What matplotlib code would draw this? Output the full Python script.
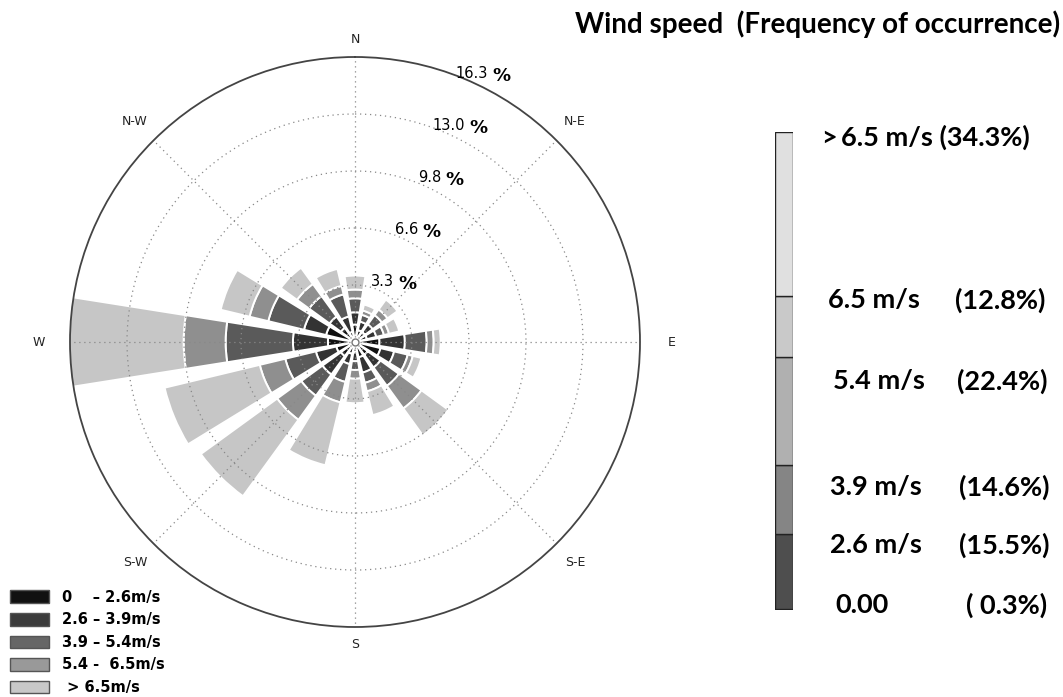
import numpy as np
import matplotlib
matplotlib.use('Agg')
import matplotlib.pyplot as plt
from matplotlib.patches import Patch
from matplotlib.transforms import offset_copy

# ---- data (percent frequency per direction, per speed bin) ----
directions = ['N', 'NNE', 'NE', 'ENE', 'E', 'ESE', 'SE', 'SSE',
              'S', 'SSW', 'SW', 'WSW', 'W', 'WNW', 'NW', 'NNW']
spd_0_26   = [1.0, 0.7, 0.7, 0.7, 1.4, 1.5, 0.9, 0.9, 0.6, 0.7, 1.0, 1.1, 1.55, 1.7, 1.0, 0.6]
spd_26_39  = [0.7, 0.5, 0.55, 0.55, 1.45, 0.8, 0.9, 0.9, 0.5, 0.6, 1.3, 1.2, 2.0, 1.3, 0.8, 0.9]
spd_39_54  = [0.8, 0.4, 0.65, 0.45, 1.25, 0.8, 1.3, 0.6, 0.5, 1.05, 1.5, 1.8, 3.85, 2.1, 1.45, 1.3]
spd_54_65  = [0.5, 0.25, 0.4, 0.3, 0.4, 0.3, 1.6, 0.5, 0.5, 1.2, 1.7, 1.5, 2.4, 1.1, 0.85, 0.5]
spd_gt_65  = [0.8, 0.35, 0.7, 0.6, 0.4, 0.5, 1.9, 1.4, 1.4, 3.7, 5.4, 5.6, 7.7, 1.7, 1.15, 1.0]
speed_bins = [spd_0_26, spd_26_39, spd_39_54, spd_54_65, spd_gt_65]
legend_labels = ['0    \u2013 2.6m/s', '2.6 \u2013 3.9m/s', '3.9 \u2013 5.4m/s',
                 '5.4 -  6.5m/s', ' > 6.5m/s']

ring_vals = [3.26, 6.52, 9.78, 13.04, 16.3]
ring_labels = ['3.3', '6.6', '9.8', '13.0', '16.3']
compass = ['N', 'N-E', 'E', 'S-E', 'S', 'S-W', 'W', 'N-W']

# overall distribution (colour bar on the right), bottom -> top
cb_pct = [0.3, 15.5, 14.6, 22.4, 12.8, 34.3]
cb_speed = ['0.00', '2.6 m/s', '3.9 m/s', '5.4 m/s', '6.5 m/s', '>\u20096.5 m/s']
cb_pct_txt = ['( 0.3%)', '(15.5%)', '(14.6%)', '(22.4%)', '(12.8%)', '(34.3%)']

# ---- styles ----
rose_cols = ['#111111', '#333333', '#5a5a5a', '#8f8f8f', '#c6c6c6']
leg_cols = ['#111111', '#3c3c3c', '#666666', '#999999', '#c8c8c8']
cb_cols = ['#111111', '#4e4e4e', '#858585', '#b0b0b0', '#c9c9c9', '#e0e0e0']

W, H = 1063, 697
fig = plt.figure(figsize=(W/100, H/100), dpi=100)

cx, cy, R = 355, 342, 285
ax = fig.add_axes([(cx-R)/W, (H-cy-R)/H, 2*R/W, 2*R/H], projection='polar')
ax.set_theta_zero_location('N')
ax.set_theta_direction(-1)

theta = np.deg2rad(np.arange(len(directions))*22.5)
bottom = np.zeros(len(directions))
for vals, col in zip(speed_bins, rose_cols):
    ax.bar(theta, vals, width=np.deg2rad(18), bottom=bottom, color=col,
           edgecolor='white', linewidth=1.4)
    bottom = bottom + np.array(vals)

ax.plot([0], [0], 'o', ms=5, mfc='white', mec='#777777', mew=1, zorder=5)

ax.set_rlim(0, ring_vals[-1])
ax.set_rticks(ring_vals[:-1])
ax.set_yticklabels([])
ax.set_xticks(np.deg2rad(np.arange(8)*45))
ax.set_xticklabels([])
ax.grid(True, color='#888888', linestyle=(0, (1, 3)), linewidth=0.9)
ax.spines['polar'].set_color('#444444')
ax.spines['polar'].set_linewidth(1.3)

# compass labels
lab_r = [17.3, 17.8, 18.1, 17.8, 17.3, 17.8, 18.1, 17.8]
for k, (lab, rr) in enumerate(zip(compass, lab_r)):
    ax.text(np.deg2rad(k*45), rr, lab, ha='center', va='center',
            fontsize=9, color='#222222', clip_on=False)

# ring labels
num_tr = offset_copy(ax.transData, fig=fig, x=11.5, y=6, units='points')
pct_tr = offset_copy(ax.transData, fig=fig, x=14.5, y=4.5, units='points')
for rv, rl in zip(ring_vals, ring_labels):
    ax.text(np.deg2rad(24.3), rv, rl, ha='right', va='center',
            fontsize=10.5, transform=num_tr, clip_on=False)
    ax.text(np.deg2rad(24.3), rv, '%', ha='left', va='center',
            fontsize=13, fontweight='bold', transform=pct_tr, clip_on=False)

# legend (bottom left)
handles = [Patch(facecolor=c, edgecolor='#555555', linewidth=1) for c in leg_cols]
fig.legend(handles, legend_labels, loc='lower left', bbox_to_anchor=(-0.003, -0.016),
           frameon=False, handlelength=2.7, handleheight=0.95, handletextpad=0.9,
           labelspacing=0.52, prop={'weight': 'bold', 'size': 10.5})

# colour bar on the right
cax = fig.add_axes([775/W, (H-610)/H, 18/W, (610-132)/H])
cb_bottom = 0.0
for p, c in zip(cb_pct, cb_cols):
    cax.bar(0, p, bottom=cb_bottom, width=1, color=c, edgecolor='#222222', linewidth=1.0)
    cb_bottom += p
cax.set_xlim(-0.5, 0.5)
cax.set_ylim(0, cb_bottom)
cax.axis('off')

font_c = ['Lato', 'DejaVu Sans']
lab_y = [605, 545, 487, 381, 300, 137]
lab_x1 = [835, 830, 830, 833, 828, 822]
lab_x2 = [1047, 1050, 1050, 1047, 1045, 1037]
for s, t, yy, x1, x2 in zip(cb_speed, cb_pct_txt, lab_y, lab_x1, lab_x2):
    if s.startswith('>'):
        fig.text(x1/W, 1-yy/H, s + ' ' + t, ha='left', va='center', fontsize=19.5,
                 fontweight='bold', family=font_c)
    else:
        fig.text(x1/W, 1-yy/H, s, ha='left', va='center', fontsize=19.5,
                 fontweight='bold', family=font_c)
        fig.text(x2/W, 1-yy/H, t, ha='right', va='center', fontsize=19.5,
                 fontweight='bold', family=font_c)

fig.text(1060/W, 1-24/H, 'Wind speed  (Frequency of occurrence)', ha='right',
         va='center', fontsize=20, fontweight='bold', family=font_c)

fig.savefig('out.png', dpi=100)
